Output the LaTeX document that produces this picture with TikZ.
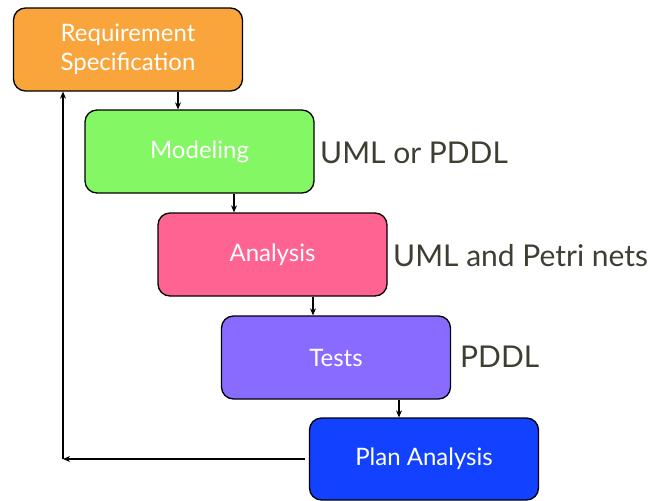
\documentclass[tikz,border=0pt]{standalone}
\usepackage{fontspec}
\setmainfont{Lato}
\usetikzlibrary{arrows.meta,calc}
\definecolor{cReq}{HTML}{F9A53B}
\definecolor{cMod}{HTML}{84F864}
\definecolor{cAna}{HTML}{FF6391}
\definecolor{cTst}{HTML}{8A6BFF}
\definecolor{cPla}{HTML}{1242FF}
\definecolor{cLab}{HTML}{3E3E32}
\tikzset{
  stagebox/.style={draw=black, line width=1.3pt, rounded corners=12pt, minimum width=229pt, minimum height=83pt, inner sep=0pt, text=white, align=center, font=\fontsize{24}{29}\selectfont},
  lab/.style={anchor=west, text=cLab, inner sep=0pt, font=\fontsize{30}{33}\selectfont},
  conn/.style={-{Stealth[length=7pt,width=6pt]}, line width=1.1pt}
}
\begin{document}
\begin{tikzpicture}[x=1pt,y=-1pt]
\useasboundingbox (0,0) rectangle (657,501);
\node[stagebox, fill=cReq] (req) at (128,49.5) {Requirement\\Specification};
\node[stagebox, fill=cMod] (mod) at (199.5,151.5) {Modeling};
\node[stagebox, fill=cAna] (ana) at (272.5,254.5) {Analysis};
\node[stagebox, fill=cTst] (tst) at (336,357.5) {Tests};
\node[stagebox, fill=cPla, minimum height=82pt] (pla) at (424,459) {Plan Analysis};
\node[lab] (l1) at (320,153) {UML or PDDL};
\node[lab] (l2) at (393,256) {UML and Petri nets};
\node[lab] (l3) at (460,357) {PDDL};
\draw[conn] ([xshift=50pt]req.south) -- ([xshift=50pt]req.south |- mod.north);
\draw[conn] ([xshift=34.5pt]mod.south) -- ([xshift=34.5pt]mod.south |- ana.north);
\draw[conn] ([xshift=40.5pt]ana.south) -- ([xshift=40.5pt]ana.south |- tst.north);
\draw[conn] ([xshift=63pt]tst.south) -- ([xshift=63pt]tst.south |- pla.north);
\coordinate (corner) at (63,459);
\draw[conn] ([xshift=-4pt]pla.west) -- (corner);
\draw[conn] (corner) -- (corner |- req.south);
\end{tikzpicture}
\end{document}
